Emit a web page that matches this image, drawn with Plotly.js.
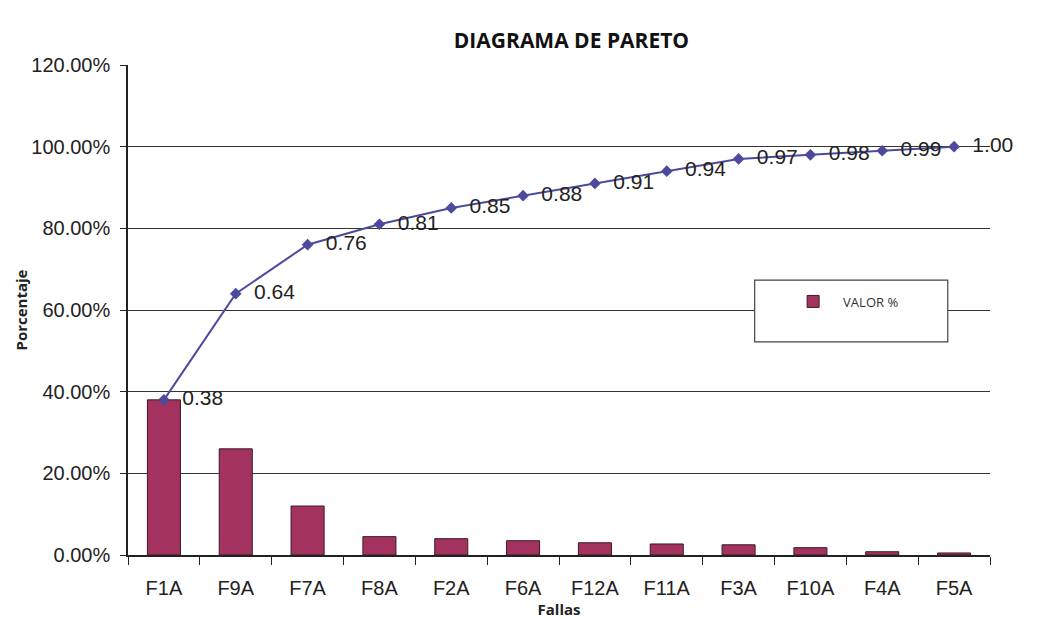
<!DOCTYPE html>
<html>
<head>
<meta charset="utf-8">
<script src="https://cdn.plot.ly/plotly-3.0.1.min.js"></script>
<style>
  html, body { margin: 0; padding: 0; background: #fff; }
  #chart { width: 1039px; height: 619px; }
</style>
</head>
<body>
<div id="chart"></div>
<script>
// fallas ordered by frequency (pareto)
const fallas = ['F1A', 'F9A', 'F7A', 'F8A', 'F2A', 'F6A', 'F12A', 'F11A', 'F3A', 'F10A', 'F4A', 'F5A'];
// percentage of each falla (bars)
const valorPct = [0.38, 0.26, 0.12, 0.045, 0.04, 0.035, 0.03, 0.027, 0.025, 0.018, 0.008, 0.005];
// cumulative percentage (line), as labelled on the chart
const acumulado = [0.38, 0.64, 0.76, 0.81, 0.85, 0.88, 0.91, 0.94, 0.97, 0.98, 0.99, 1.00];
const yTicks = [0, 0.2, 0.4, 0.6, 0.8, 1.0, 1.2];

const barColor = '#a3325f';
const lineColor = '#4c4a9c';
const font = 'Arial, Liberation Sans, sans-serif';

const trace_valor = {
    x: fallas,
    y: valorPct,
    type: 'bar',
    name: 'VALOR %',
    marker: {color: barColor, line: {color: '#3a1a28', width: 1}},
    width: 0.46
};

const trace_acum = {
    x: fallas,
    y: acumulado,
    type: 'scatter',
    mode: 'lines+markers+text',
    name: 'acumulado',
    showlegend: false,
    line: {color: lineColor, width: 2},
    marker: {symbol: 'diamond', size: 9, color: lineColor},
    // leading space pushes the label a bit away from the marker
    text: acumulado.map(v => '  ' + v.toFixed(2)),
    textposition: 'middle right',
    textfont: {family: font, size: 21, color: '#222'},
    cliponaxis: false
};

const layout = {
    width: 1039,
    height: 619,
    margin: {l: 128, r: 49, t: 65, b: 64},
    paper_bgcolor: '#fff',
    plot_bgcolor: '#fff',
    font: {family: font, color: '#222'},
    title: {
        text: '<b>DIAGRAMA DE PARETO</b>',
        font: {family: 'Open Sans, sans-serif', size: 21, color: '#111'},
        x: 0.55, xanchor: 'center', y: 0.935, yanchor: 'middle'
    },
    xaxis: {
        type: 'category',
        title: {text: '<b>Fallas</b>', font: {family: 'Open Sans, sans-serif', size: 15}, standoff: 0},
        tickfont: {size: 20},
        ticklabelstandoff: 14,
        showline: true, linecolor: '#222', linewidth: 1.5,
        ticks: 'outside', ticklen: 8, tickcolor: '#222', tickson: 'boundaries',
        showgrid: false,
        range: [-0.5, 11.5]
    },
    yaxis: {
        range: [0, 1.2],
        tickvals: yTicks,
        tickformat: '.2%',
        tickfont: {size: 20},
        ticklabelstandoff: 6,
        title: {text: '<b>Porcentaje</b>', font: {family: 'Open Sans, sans-serif', size: 15}, standoff: 0},
        showline: true, linecolor: '#222', linewidth: 1.5,
        ticks: 'outside', ticklen: 6, tickcolor: '#222',
        showgrid: true, gridcolor: '#333', gridwidth: 1.2,
        zeroline: false
    },
    // legend frame, drawn larger than plotly's own box like the original
    shapes: [{
        type: 'rect', xref: 'paper', yref: 'paper',
        x0: 0.727, x1: 0.951, y0: 0.435, y1: 0.561,
        line: {color: '#444', width: 1.2}, fillcolor: '#fff', layer: 'above'
    }],
    showlegend: true,
    legend: {
        x: 0.76, y: 0.548, xanchor: 'left', yanchor: 'top',
        bgcolor: 'rgba(0,0,0,0)', borderwidth: 0,
        font: {family: 'Open Sans, sans-serif', size: 13, color: '#333'},
        itemwidth: 50
    },
    bargap: 0.54
};

Plotly.newPlot('chart', [trace_valor, trace_acum], layout, {displayModeBar: false});
</script>
</body>
</html>
